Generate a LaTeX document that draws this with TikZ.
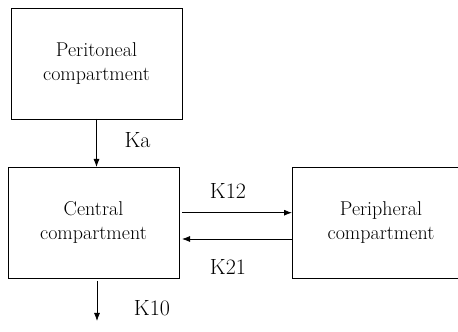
\documentclass[tikz,border=0pt]{standalone}
\usetikzlibrary{positioning,arrows.meta}

\begin{document}
\begin{tikzpicture}[
    box/.style={
        draw,
        line width=0.8pt,
        minimum width=171pt,
        minimum height=111pt,
        align=center,
        font=\fontsize{20}{24}\selectfont,
        inner sep=0pt,
        outer sep=0pt
    },
    flow/.style={draw, line width=0.8pt, -{Latex[length=8pt,width=6pt]}},
    rate/.style={font=\fontsize{22}{26}\selectfont, inner sep=0pt}
]
\useasboundingbox (0,0) rectangle (458pt,332pt);

\node[box] (central) at (93.5pt,109.5pt) {Central\\compartment};
\node[box, above=48pt of central, xshift=3pt] (peritoneal) {Peritoneal\\compartment};
\node[box, right=113pt of central, minimum width=178pt] (peripheral) {Peripheral\\compartment};
\coordinate (sink) at (97pt,11pt);

\draw[flow] (peritoneal.south) -- (central.north -| peritoneal.south);
\draw[flow] ([xshift=3pt,yshift=9.8pt]central.east) -- ([yshift=9.8pt]central.east -| peripheral.west);
\draw[flow] ([yshift=-16.5pt]central.east -| peripheral.west) -- ([xshift=3pt,yshift=-16.5pt]central.east);
\draw[flow] ([xshift=3.5pt,yshift=-3pt]central.south) -- (sink);

\node[rate] (ka) at (137.5pt,192pt) {Ka};
\node[rate] (k12) at (228pt,141pt) {K12};
\node[rate] (k21) at (228pt,65pt) {K21};
\node[rate] (k10) at (152pt,24pt) {K10};

\end{tikzpicture}
\end{document}
